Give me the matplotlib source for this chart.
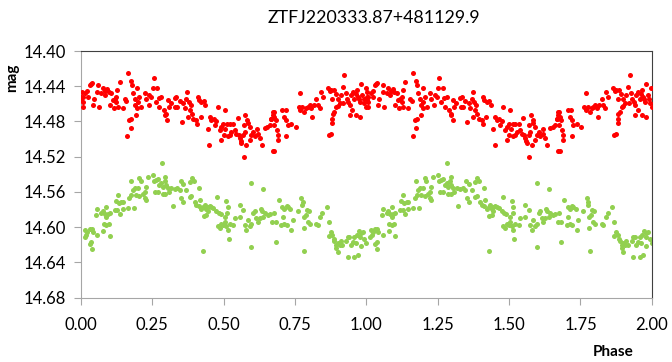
import numpy as np
import matplotlib.pyplot as plt

plt.rcParams['font.family'] = ['Lato', 'DejaVu Sans']

# folded light curve, one cycle (phase 0-1); plotted twice (0-1 and 1-2)
red_phase = [0.003, 0.015, 0.007, 0.001, 0.007, 0.006, 0.022, 0.034, 0.030, 0.038, 0.024, 0.042, 0.045,
             0.059, 0.057, 0.062, 0.071, 0.077, 0.083, 0.085, 0.092, 0.097, 0.100, 0.106, 0.112, 0.118,
             0.115, 0.124, 0.124, 0.129, 0.127, 0.135, 0.147, 0.153, 0.159, 0.164, 0.174, 0.178, 0.182,
             0.176, 0.170, 0.174, 0.162, 0.188, 0.190, 0.197, 0.199, 0.193, 0.197, 0.205, 0.211, 0.223,
             0.228, 0.237, 0.240, 0.246, 0.252, 0.255, 0.263, 0.267, 0.272, 0.275, 0.281, 0.290, 0.295,
             0.298, 0.302, 0.304, 0.307, 0.314, 0.328, 0.330,
             0.334, 0.346, 0.338, 0.358, 0.373, 0.369, 0.378, 0.364, 0.381, 0.385, 0.389, 0.375, 0.354,
             0.393, 0.408, 0.410, 0.413, 0.422, 0.431, 0.436, 0.420, 0.404, 0.445, 0.451, 0.457, 0.466,
             0.469, 0.474, 0.480, 0.486, 0.492, 0.498, 0.504, 0.506, 0.501, 0.513, 0.521, 0.533, 0.521,
             0.515, 0.527, 0.538, 0.544, 0.550, 0.552, 0.556, 0.559, 0.562, 0.568, 0.571, 0.576, 0.573,
             0.583, 0.585, 0.591, 0.579, 0.591, 0.597, 0.603, 0.609, 0.618, 0.620, 0.626, 0.634, 0.571,
             0.643, 0.652, 0.661, 0.667, 0.672, 0.676, 0.672, 0.449, 0.492,
             0.672, 0.678, 0.667, 0.682, 0.675, 0.686, 0.690, 0.690, 0.705, 0.717, 0.713, 0.719, 0.725,
             0.737, 0.752, 0.719, 0.678, 0.768, 0.763, 0.768, 0.775, 0.783, 0.789, 0.795, 0.801, 0.807,
             0.810, 0.815, 0.824, 0.830, 0.836, 0.841, 0.847, 0.865, 0.871, 0.876, 0.885, 0.892, 0.880,
             0.900, 0.906, 0.911, 0.917, 0.923, 0.927, 0.931, 0.936, 0.941, 0.946, 0.950, 0.952, 0.958,
             0.962, 0.966, 0.970, 0.973, 0.976, 0.981, 0.985, 0.990, 0.993, 0.997, 0.999, 0.001, 0.964,
             0.978, 0.894, 0.888, 0.882, 0.880, 0.880, 0.876, 0.868, 0.900, 0.919, 0.941]
red_mag = [14.446, 14.448, 14.452, 14.456, 14.458, 14.463, 14.445, 14.437, 14.439, 14.436, 14.452, 14.461, 14.454,
           14.439, 14.446, 14.463, 14.448, 14.442, 14.450, 14.445, 14.443, 14.446, 14.461, 14.448, 14.456, 14.454,
           14.465, 14.452, 14.458, 14.463, 14.444, 14.435, 14.465, 14.454, 14.457, 14.425, 14.434, 14.439, 14.448,
           14.477, 14.478, 14.487, 14.497, 14.454, 14.461, 14.465, 14.458, 14.473, 14.442, 14.452, 14.463, 14.448,
           14.454, 14.461, 14.450, 14.452, 14.442, 14.431, 14.458, 14.442, 14.453, 14.463, 14.452, 14.467, 14.473,
           14.471, 14.478, 14.456, 14.463, 14.459, 14.453, 14.464,
           14.452, 14.457, 14.463, 14.459, 14.447, 14.454, 14.458, 14.465, 14.467, 14.461, 14.471, 14.475, 14.481,
           14.477, 14.483, 14.452, 14.456, 14.458, 14.457, 14.461, 14.475, 14.478, 14.488, 14.475, 14.478, 14.477,
           14.484, 14.480, 14.463, 14.490, 14.486, 14.483, 14.467, 14.489, 14.495, 14.483, 14.483, 14.483, 14.495,
           14.497, 14.492, 14.490, 14.494, 14.476, 14.495, 14.499, 14.502, 14.505, 14.495, 14.484, 14.473, 14.492,
           14.478, 14.482, 14.486, 14.507, 14.501, 14.495, 14.492, 14.496, 14.488, 14.494, 14.499, 14.507, 14.520,
           14.487, 14.486, 14.484, 14.477, 14.473, 14.469, 14.514, 14.507, 14.501,
           14.469, 14.475, 14.477, 14.478, 14.484, 14.490, 14.495, 14.501, 14.467, 14.467, 14.475, 14.478, 14.484,
           14.483, 14.486, 14.497, 14.514, 14.448, 14.463, 14.467, 14.464, 14.469, 14.465, 14.463, 14.461, 14.465,
           14.475, 14.461, 14.454, 14.461, 14.465, 14.446, 14.452, 14.442, 14.445, 14.444, 14.444, 14.449, 14.454,
           14.454, 14.459, 14.450, 14.441, 14.427, 14.448, 14.454, 14.458, 14.461, 14.450, 14.467, 14.446, 14.454,
           14.449, 14.444, 14.452, 14.454, 14.458, 14.437, 14.450, 14.454, 14.459, 14.442, 14.463, 14.452, 14.473,
           14.475, 14.463, 14.469, 14.472, 14.477, 14.482, 14.494, 14.495, 14.462, 14.459, 14.473]

green_phase = [0.015, 0.022, 0.019, 0.013, 0.030, 0.038, 0.042, 0.036, 0.030, 0.038, 0.057, 0.054, 0.057,
               0.071, 0.077, 0.083, 0.089, 0.094, 0.100, 0.089, 0.080, 0.089, 0.097, 0.101, 0.078, 0.118,
               0.127, 0.135, 0.132, 0.141, 0.147, 0.121, 0.129, 0.147, 0.164, 0.185, 0.174, 0.182, 0.188,
               0.176, 0.170, 0.193, 0.199, 0.205, 0.209, 0.205, 0.217, 0.223, 0.228, 0.223, 0.228, 0.234,
               0.252, 0.255, 0.263, 0.269, 0.258, 0.269, 0.275, 0.281, 0.287, 0.293, 0.295, 0.298, 0.304,
               0.287, 0.295, 0.307, 0.322, 0.328, 0.316, 0.284,
               0.350, 0.358, 0.338, 0.346, 0.369, 0.381, 0.389, 0.396, 0.413, 0.352, 0.358, 0.381, 0.387,
               0.399, 0.404, 0.416, 0.413, 0.422, 0.428, 0.434, 0.439, 0.445, 0.451, 0.457, 0.463, 0.431,
               0.439, 0.445, 0.478, 0.474, 0.483, 0.490, 0.509, 0.515, 0.513, 0.504, 0.492, 0.498, 0.504,
               0.480, 0.486, 0.509, 0.515, 0.521, 0.533, 0.538, 0.556, 0.556, 0.568, 0.574, 0.579, 0.585,
               0.591, 0.597, 0.603, 0.609, 0.614, 0.620, 0.626, 0.629, 0.634, 0.638, 0.643, 0.655, 0.597,
               0.638, 0.518, 0.597, 0.428,
               0.661, 0.675, 0.682, 0.670, 0.693, 0.705, 0.713, 0.725, 0.733, 0.721, 0.707, 0.702, 0.713,
               0.721, 0.737, 0.742, 0.760, 0.772, 0.777, 0.775, 0.780, 0.787, 0.791, 0.798, 0.795, 0.801,
               0.780, 0.824, 0.830, 0.838, 0.845, 0.861, 0.868, 0.876, 0.880, 0.885, 0.888, 0.894, 0.900,
               0.906, 0.911, 0.915, 0.900, 0.929, 0.935, 0.940, 0.946, 0.952, 0.958, 0.962, 0.966, 0.973,
               0.978, 0.981, 0.987, 0.993, 0.999, 0.981, 0.935, 0.958, 0.969, 0.682, 0.783, 0.868, 0.894]
green_mag = [14.603, 14.606, 14.609, 14.611, 14.602, 14.602, 14.605, 14.617, 14.619, 14.625, 14.609, 14.586, 14.579,
             14.584, 14.582, 14.585, 14.577, 14.585, 14.584, 14.588, 14.596, 14.598, 14.596, 14.610, 14.604, 14.580,
             14.580, 14.585, 14.573, 14.572, 14.571, 14.570, 14.563, 14.579, 14.578, 14.578, 14.548, 14.558, 14.556,
             14.563, 14.567, 14.563, 14.556, 14.544, 14.548, 14.565, 14.562, 14.567, 14.569, 14.560, 14.554, 14.543,
             14.541, 14.548, 14.546, 14.545, 14.560, 14.560, 14.552, 14.550, 14.554, 14.548, 14.543, 14.552, 14.556,
             14.562, 14.562, 14.560, 14.576, 14.557, 14.555, 14.527,
             14.548, 14.551, 14.555, 14.558, 14.558, 14.549, 14.544, 14.548, 14.556, 14.567, 14.571, 14.566, 14.565,
             14.571, 14.575, 14.569, 14.576, 14.579, 14.577, 14.575, 14.579, 14.577, 14.576, 14.577, 14.578, 14.587,
             14.586, 14.582, 14.566, 14.582, 14.584, 14.585, 14.570, 14.577, 14.584, 14.588, 14.596, 14.598, 14.594,
             14.599, 14.601, 14.599, 14.603, 14.596, 14.598, 14.590, 14.575, 14.589, 14.581, 14.598, 14.603, 14.592,
             14.599, 14.596, 14.584, 14.582, 14.590, 14.594, 14.590, 14.579, 14.582, 14.588, 14.584, 14.586, 14.550,
             14.557, 14.613, 14.623, 14.627,
             14.585, 14.584, 14.594, 14.594, 14.569, 14.577, 14.579, 14.577, 14.579, 14.576, 14.588, 14.598, 14.596,
             14.598, 14.603, 14.592, 14.582, 14.567, 14.571, 14.575, 14.588, 14.586, 14.581, 14.582, 14.594, 14.596,
             14.601, 14.596, 14.598, 14.588, 14.584, 14.577, 14.594, 14.605, 14.609, 14.613, 14.616, 14.620, 14.618,
             14.620, 14.616, 14.620, 14.628, 14.616, 14.611, 14.611, 14.620, 14.617, 14.611, 14.618, 14.609, 14.604,
             14.611, 14.607, 14.605, 14.613, 14.618, 14.622, 14.634, 14.634, 14.632, 14.617, 14.627, 14.610, 14.624]

yticks = [14.40, 14.44, 14.48, 14.52, 14.56, 14.60, 14.64, 14.68]
xticks = [0.00, 0.25, 0.50, 0.75, 1.00, 1.25, 1.50, 1.75, 2.00]

rp = np.array(red_phase)
gp = np.array(green_phase)

fig = plt.figure(figsize=(6.72, 3.62), dpi=100)
ax = fig.add_axes([0.1205, 0.178, 0.8495, 0.681])

for shift in (0, 1):
    ax.scatter(gp + shift, green_mag, s=13, c='#92D050', linewidths=0, zorder=2)
    ax.scatter(rp + shift, red_mag, s=13, c='#FF0000', linewidths=0, zorder=3)

ax.set_xlim(0, 2)
ax.set_ylim(14.68, 14.40)
ax.set_xticks(xticks)
ax.set_xticklabels([f'{t:.2f}' for t in xticks])
ax.set_yticks(yticks)
ax.set_yticklabels([f'{t:.2f}' for t in yticks])

for side in ('left', 'bottom'):
    ax.spines[side].set_color('#A6A6A6')
for side in ('top', 'right'):
    ax.spines[side].set_color('#404040')
ax.tick_params(axis='both', colors='#A6A6A6', labelcolor='black', labelsize=12, length=5)
ax.tick_params(axis='x', pad=9)
ax.tick_params(axis='y', pad=6)

fig.text(0.556, 0.95, 'ZTFJ220333.87+481129.9', ha='center', va='center', fontsize=12.8)
fig.text(0.018, 0.785, 'mag', rotation=90, ha='center', va='center', fontsize=11, fontweight='bold')
fig.text(0.912, 0.028, 'Phase', ha='center', va='center', fontsize=11, fontweight='bold')

fig.savefig('out.png', dpi=100)
